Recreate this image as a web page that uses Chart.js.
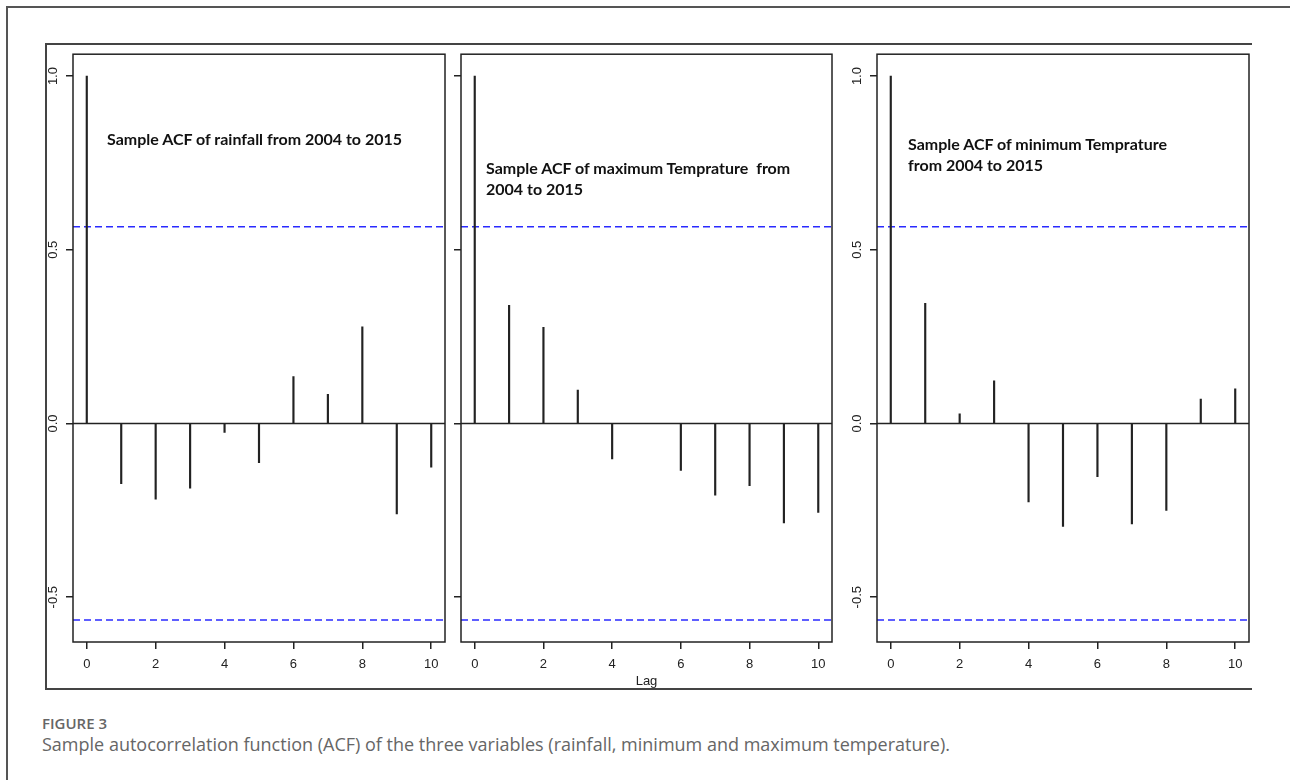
<!DOCTYPE html>
<html>
<head>
<meta charset="utf-8">
<script src="https://cdn.jsdelivr.net/npm/chart.js@4.4.1/dist/chart.umd.min.js"></script>
<style>
  body { margin: 0; background: #fff; width: 1290px; height: 780px; overflow: hidden; position: relative; }
  .page-frame { position: absolute; left: 6px; top: 6px; width: 1300px; height: 800px; border-left: 2px solid #555; border-top: 2px solid #555; }
  .fig-frame { position: absolute; left: 45px; top: 43px; width: 1205px; height: 643px; border-left: 2px solid #444; border-top: 2px solid #444; border-bottom: 2px solid #444; }
  canvas { position: absolute; top: 44px; }
  .note { position: absolute; font-family: Lato, sans-serif; font-weight: 700; font-size: 16px; line-height: 21px; color: #111; white-space: pre; }
  .fig-label { position: absolute; left: 42px; top: 713px; font-family: "Open Sans", sans-serif; font-weight: 600; font-size: 15px; color: #666; }
  .caption { position: absolute; left: 42px; top: 732px; font-family: "Open Sans", sans-serif; font-weight: 400; font-size: 18px; color: #666; white-space: nowrap; }
</style>
</head>
<body>
<div class="page-frame"></div>
<div class="fig-frame"></div>

<canvas id="acf1" width="406" height="645" style="left:46px"></canvas>
<canvas id="acf2" width="386" height="645" style="left:452px"></canvas>
<canvas id="acf3" width="418" height="645" style="left:838px"></canvas>

<div class="note" style="left:107px; top:128px">Sample ACF of rainfall from 2004 to 2015</div>
<div class="note" style="left:486px; top:157px">Sample ACF of maximum Temprature  from
2004 to 2015</div>
<div class="note" style="left:908px; top:133px">Sample ACF of minimum Temprature
from 2004 to 2015</div>

<div class="fig-label">FIGURE 3</div>
<div class="caption">Sample autocorrelation function (ACF) of the three variables (rainfall, minimum and maximum temperature).</div>

<script>
// lags and sample ACF values
const lags = [0, 1, 2, 3, 4, 5, 6, 7, 8, 9, 10];
const rainfallAcf = [1, -0.173, -0.218, -0.186, -0.026, -0.113, 0.135, 0.084, 0.278, -0.26, -0.126];
const maxTempAcf = [1, 0.34, 0.277, 0.096, -0.102, 0, -0.135, -0.206, -0.179, -0.286, -0.256];
const minTempAcf = [1, 0.346, 0.028, 0.123, -0.226, -0.296, -0.153, -0.289, -0.25, 0.07, 0.1];
const ciBound = 0.566; // 1.96 / sqrt(12)

const xTicks = [0, 2, 4, 6, 8, 10];
const yTicks = [-0.5, 0, 0.5, 1];
const xRange = [-0.4, 10.4];
const yRange = [-0.629, 1.063];

Chart.defaults.font.family = "'Liberation Sans', Arial, sans-serif";
Chart.defaults.color = "#222";

// R style box around the plot region
const boxPlugin = {
  id: "box",
  afterDraw(chart) {
    const a = chart.chartArea, ctx = chart.ctx;
    ctx.save();
    ctx.strokeStyle = "#222";
    ctx.lineWidth = 1.5;
    ctx.strokeRect(a.left, a.top, a.right - a.left, a.bottom - a.top);
    ctx.restore();
  }
};

// y tick labels turned 90 degrees like R does
const yLabelPlugin = {
  id: "yLabels",
  afterDraw(chart, args, opts) {
    if (!opts.show) return;
    const y = chart.scales.y, ctx = chart.ctx;
    ctx.save();
    ctx.fillStyle = "#222";
    ctx.font = "13px 'Liberation Sans', Arial, sans-serif";
    ctx.textAlign = "center";
    ctx.textBaseline = "middle";
    y.ticks.forEach(t => {
      ctx.save();
      ctx.translate(chart.chartArea.left - 20, y.getPixelForValue(t.value));
      ctx.rotate(-Math.PI / 2);
      ctx.fillText(t.value.toFixed(1), 0, 0);
      ctx.restore();
    });
    ctx.restore();
  }
};

const makeAcf = (id, values, opts) => {
  const ctx = document.getElementById(id).getContext("2d");
  return new Chart(ctx, {
    type: "bar",
    data: {
      datasets: [
        {
          type: "line",
          data: [{ x: xRange[0], y: 0 }, { x: xRange[1], y: 0 }],
          borderColor: "#222", borderWidth: 1.5, pointRadius: 0, order: 1
        },
        {
          type: "line",
          data: [{ x: xRange[0], y: ciBound }, { x: xRange[1], y: ciBound }],
          borderColor: "#2a2aff", borderWidth: 1.5, borderDash: [7, 4], pointRadius: 0, order: 2
        },
        {
          type: "line",
          data: [{ x: xRange[0], y: -ciBound }, { x: xRange[1], y: -ciBound }],
          borderColor: "#2a2aff", borderWidth: 1.5, borderDash: [7, 4], pointRadius: 0, order: 2
        },
        {
          data: lags.map((l, i) => ({ x: l, y: values[i] })),
          backgroundColor: "#222",
          barThickness: 1.5,
          order: 0
        }
      ]
    },
    options: {
      responsive: false,
      animation: false,
      devicePixelRatio: 1,
      layout: { padding: { top: 8, right: opts.right, left: 0, bottom: 0 } },
      plugins: {
        legend: { display: false },
        tooltip: { enabled: false },
        yLabels: { show: opts.yLabels }
      },
      scales: {
        x: {
          type: "linear",
          offset: false,
          min: xRange[0], max: xRange[1],
          border: { display: false },
          grid: { offset: false, drawOnChartArea: false, drawTicks: true, tickLength: 7, color: "#222", lineWidth: 1.5 },
          ticks: { padding: 8, font: { size: 13 }, color: "#222", maxRotation: 0 },
          title: { display: opts.lag, text: "Lag", font: { size: 13 }, color: "#222", padding: { top: 0, bottom: 0 } },
          afterBuildTicks: s => { s.ticks = xTicks.map(v => ({ value: v })); },
          afterFit: s => { s.height = 47; }
        },
        y: {
          min: yRange[0], max: yRange[1],
          border: { display: false },
          grid: { drawOnChartArea: false, drawTicks: true, tickLength: 7, color: "#222", lineWidth: 1.5 },
          ticks: { color: "rgba(0,0,0,0)" },
          afterBuildTicks: s => { s.ticks = yTicks.map(v => ({ value: v })); },
          afterFit: s => { s.width = opts.yWidth; }
        }
      }
    },
    plugins: [boxPlugin, yLabelPlugin]
  });
};

makeAcf("acf1", rainfallAcf, { right: 7, yWidth: 27, yLabels: true, lag: false });
makeAcf("acf2", maxTempAcf, { right: 6, yWidth: 9, yLabels: false, lag: true });
makeAcf("acf3", minTempAcf, { right: 7, yWidth: 39, yLabels: true, lag: false });
</script>
</body>
</html>
